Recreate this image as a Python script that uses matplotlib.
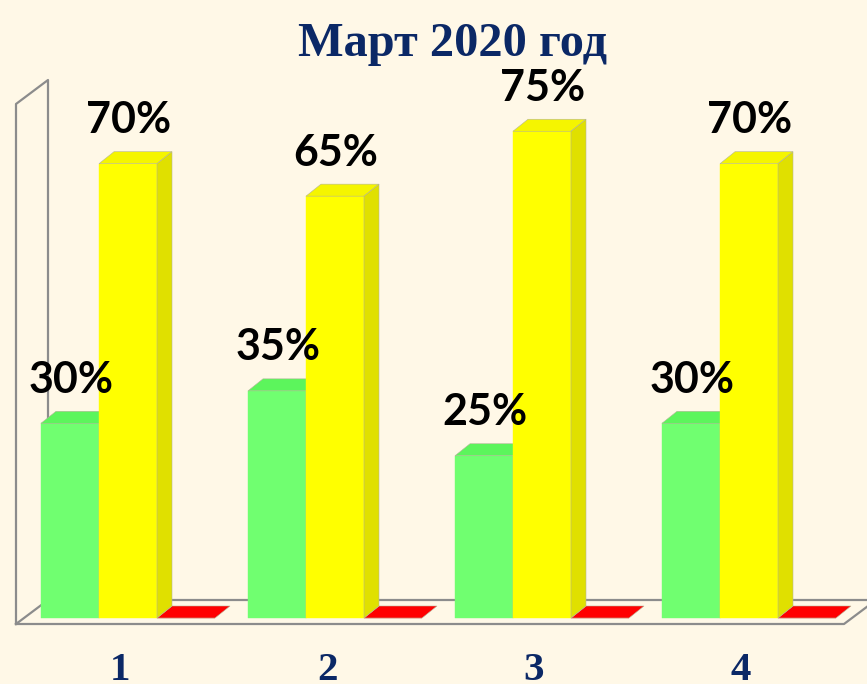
import numpy as np
from matplotlib import pyplot as plt

categories = [1, 2, 3, 4]
green_vals = [30, 35, 25, 30]
yellow_vals = [70, 65, 75, 70]
red_vals = [0, 0, 0, 0]
title = 'Март 2020 год'

BG = '#FFF8E7'
NAVY = '#0B2866'
GRID = '#8C8C8C'
EDGE = '#B4B498'

W, H = 867, 684
PX_X = 207.0   # px per category
PX_Y = 6.49    # px per percent
X0 = 119.5     # px of category 1
Y0 = 618.0     # px of value 0

bar_w = 58 / PX_X
dx = 15 / PX_X  # depth of the bars
dy = 12 / PX_Y
wall_dx = 32 / PX_X
wall_dy = 24 / PX_Y
floor_y = -6 / PX_Y
wall_top = 514 / PX_Y
group_shift = (70 - X0) / PX_X  # green bar sits left of the category centre


def bars_3d(ax, xs, vals, face, top, side):
    ax.bar(xs, vals, width=bar_w, color=face, edgecolor=face, linewidth=0.3, zorder=3)
    for x, v in zip(xs, vals):
        l, r = x - bar_w / 2, x + bar_w / 2
        ax.fill([l, l + dx, r + dx, r], [v, v + dy, v + dy, v], color=top, ec=EDGE, lw=0.4, zorder=3)
        if v > 0:
            ax.fill([r, r + dx, r + dx, r], [0, dy, v + dy, v], color=side, ec=EDGE, lw=0.4, zorder=3)


def add_labels(ax, xs, vals):
    for x, v in zip(xs, vals):
        ax.annotate(f'{v}%', (x, v), xytext=(0.5, 22), textcoords='offset points',
                    ha='center', va='baseline', fontsize=31, color='black',
                    family='Lato', fontweight='bold', zorder=5)


fig = plt.figure(figsize=(W / 100, H / 100), dpi=100, facecolor=BG)
ax = fig.add_axes([0, 0, 1, 1], facecolor=BG)
ax.set_xlim(1 - X0 / PX_X, 1 + (W - X0) / PX_X)
ax.set_ylim((Y0 - H) / PX_Y, Y0 / PX_Y)
ax.axis('off')

x = np.array(categories, dtype=float)
n = len(categories)

# walls and floor of the 3d box
left = 0.5
right = n + 0.5
ax.plot([left, left, left + wall_dx, left + wall_dx, left],
        [floor_y, wall_top, wall_top + wall_dy, floor_y + wall_dy, floor_y],
        color=GRID, lw=1.6, zorder=1)
ax.plot([left, right, right + wall_dx], [floor_y, floor_y, floor_y + wall_dy], color=GRID, lw=1.6, zorder=1)
ax.plot([left + wall_dx, right + wall_dx], [floor_y + wall_dy] * 2, color=GRID, lw=1.6, zorder=1)

x_green = x + group_shift
x_yellow = x_green + bar_w
x_red = x_yellow + bar_w

bars_3d(ax, x_red, red_vals, '#FF0000', '#FF0000', '#E00000')
bars_3d(ax, x_green, green_vals, '#70FF70', '#5CF55C', '#5CE05C')
bars_3d(ax, x_yellow, yellow_vals, '#FFFF00', '#F5F500', '#E0E000')

add_labels(ax, x_green, green_vals)
add_labels(ax, x_yellow, yellow_vals)

for c in categories:
    ax.annotate(str(c), (c, 0), xytext=(0.4, -44.5), textcoords='offset points', ha='center', va='baseline',
                fontsize=29.5, color=NAVY, family='Liberation Serif', fontweight='bold')

ax.text(0.5225, 0.935, title, transform=ax.transAxes, ha='center', va='center',
        fontsize=34.8, color=NAVY, family='Liberation Serif', fontweight='bold')

fig.savefig('out.png', dpi=100, facecolor=BG)
